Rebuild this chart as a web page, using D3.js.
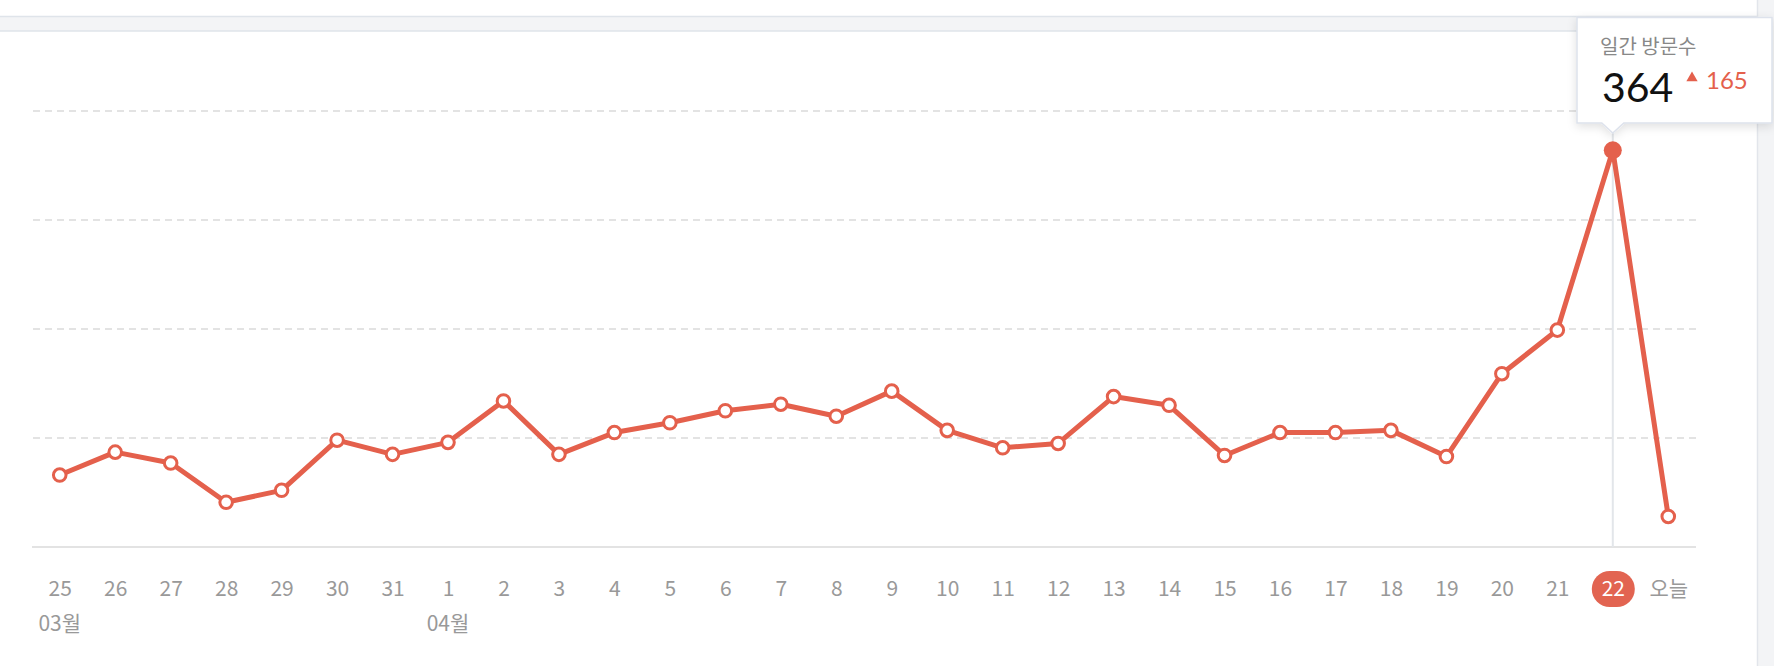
<!DOCTYPE html>
<html>
<head>
<meta charset="utf-8">
<script src="https://cdn.jsdelivr.net/npm/d3@7"></script>
<style>
  body { margin: 0; background: #fff; font-family: "Noto Sans CJK KR", "Noto Sans", sans-serif; }
  svg { display: block; }
</style>
</head>
<body>
<svg id="chart"></svg>
<script>
// ===============================
// Data
// ===============================
const days = ["25", "26", "27", "28", "29", "30", "31", "1", "2", "3", "4", "5", "6", "7", "8",
              "9", "10", "11", "12", "13", "14", "15", "16", "17", "18", "19", "20", "21", "22", "오늘"];
const visits = [66, 87, 77, 41, 52, 98, 85, 96, 134, 85, 105, 114, 125, 131, 120,
                143, 107, 91, 95, 138, 130, 84, 105, 105, 107, 83, 159, 199, 364, 28];
const monthLabels = [["25", "03월"], ["1", "04월"]];
const gridTicks = [100, 200, 300, 400];
const selectedDay = "22";
const tooltipTitle = "일간 방문수";
const changeValue = 165;

const width = 1774, height = 666;
const red = "#e4604c";

const svg = d3.select("#chart").attr("width", width).attr("height", height);

// ===============================
// Page frame (top band, scrollbar)
// ===============================
svg.append("rect").attr("x", 0).attr("y", 16).attr("width", 1757).attr("height", 15)
    .attr("fill", "#f3f4f6");
svg.append("line").attr("x1", 0).attr("x2", 1757).attr("y1", 16.5).attr("y2", 16.5)
    .attr("stroke", "#dfe4ea").attr("stroke-width", 1.5);
svg.append("line").attr("x1", 0).attr("x2", 1757).attr("y1", 31).attr("y2", 31)
    .attr("stroke", "#dfe4ea").attr("stroke-width", 1.5);
svg.append("rect").attr("x", 1757).attr("y", 0).attr("width", 17).attr("height", height)
    .attr("fill", "#f3f4f6");
svg.append("line").attr("x1", 1757.5).attr("x2", 1757.5).attr("y1", 0).attr("y2", height)
    .attr("stroke", "#e2e5eb").attr("stroke-width", 1.5);

// ===============================
// Scales
// ===============================
const x = d3.scalePoint().domain(days).range([32, 1696]).padding(0.5);
const y = d3.scaleLinear().domain([0, 400]).range([547, 111]);

// Grid lines
svg.append("g")
    .selectAll("line")
    .data(gridTicks)
    .enter()
    .append("line")
    .attr("x1", 33).attr("x2", 1696)
    .attr("y1", d => y(d)).attr("y2", d => y(d))
    .attr("stroke", "#e3e3e3")
    .attr("stroke-width", 2)
    .attr("stroke-dasharray", "7,5");

// Baseline
svg.append("line")
    .attr("x1", 32).attr("x2", 1696)
    .attr("y1", y(0)).attr("y2", y(0))
    .attr("stroke", "#e3e3e3").attr("stroke-width", 2);

// Hover line
const selIdx = days.indexOf(selectedDay);
svg.append("line")
    .attr("x1", x(selectedDay)).attr("x2", x(selectedDay))
    .attr("y1", 125).attr("y2", y(0))
    .attr("stroke", "#e3e6ea").attr("stroke-width", 2);

// ===============================
// Line + points
// ===============================
const line = d3.line()
    .x((d, i) => x(days[i]))
    .y(d => y(d));

svg.append("path")
    .datum(visits)
    .attr("fill", "none")
    .attr("stroke", red)
    .attr("stroke-width", 5)
    .attr("stroke-linejoin", "round")
    .attr("d", line);

svg.append("g")
    .selectAll("circle")
    .data(visits)
    .enter()
    .append("circle")
    .attr("cx", (d, i) => x(days[i]))
    .attr("cy", d => y(d))
    .attr("r", (d, i) => i === selIdx ? 9 : 6.3)
    .attr("fill", (d, i) => i === selIdx ? red : "#fff")
    .attr("stroke", red)
    .attr("stroke-width", (d, i) => i === selIdx ? 0 : 3);

// ===============================
// X axis labels
// ===============================
const xAxis = svg.append("g")
    .attr("transform", `translate(0, 589)`)
    .call(d3.axisBottom(x).tickSize(0).tickPadding(0));
xAxis.select(".domain").remove();

xAxis.selectAll(".tick")
    .filter(d => d === selectedDay)
    .insert("rect", "text")
    .attr("x", -21.5).attr("y", -18)
    .attr("width", 43).attr("height", 36)
    .attr("rx", 18)
    .attr("fill", "#e26451");

xAxis.selectAll(".tick text")
    .attr("dy", "0.35em")
    .attr("y", 0)
    .attr("font-family", "'Noto Sans CJK KR', sans-serif")
    .attr("font-size", 21)
    .attr("fill", d => d === selectedDay ? "#fff" : "#999");

svg.append("g")
    .selectAll("text")
    .data(monthLabels)
    .enter()
    .append("text")
    .attr("x", d => x(d[0]))
    .attr("y", 624)
    .attr("dy", "0.35em")
    .attr("text-anchor", "middle")
    .attr("font-size", 21)
    .attr("fill", "#999")
    .text(d => d[1]);

// ===============================
// Tooltip
// ===============================
const defs = svg.append("defs");
const filter = defs.append("filter").attr("id", "shadow")
    .attr("x", "-20%").attr("y", "-20%").attr("width", "140%").attr("height", "150%");
filter.append("feDropShadow")
    .attr("dx", 0).attr("dy", 3).attr("stdDeviation", 5)
    .attr("flood-color", "#000").attr("flood-opacity", 0.12);

const px = x(selectedDay);
const tip = svg.append("g").attr("filter", "url(#shadow)");
tip.append("path")
    .attr("d", `M1577,17.5 H1772 V123 H${px + 11} L${px},133 L${px - 11},123 H1577 Z`)
    .attr("fill", "#fff")
    .attr("stroke", "#dde2ec")
    .attr("stroke-width", 1.5);

svg.append("text")
    .attr("x", 1600).attr("y", 54)
    .attr("font-size", 20)
    .attr("fill", "#888")
    .text(tooltipTitle);

svg.append("text")
    .attr("x", 1602).attr("y", 102)
    .attr("font-family", "Lato, sans-serif")
    .attr("font-size", 41)
    .attr("fill", "#111")
    .text(visits[selIdx]);

svg.append("path")
    .attr("d", d3.symbol().type(d3.symbolTriangle).size(55)())
    .attr("transform", "translate(1692, 78)")
    .attr("fill", red);

svg.append("text")
    .attr("x", 1706).attr("y", 89)
    .attr("font-family", "Lato, sans-serif")
    .attr("font-size", 24)
    .attr("fill", red)
    .text(changeValue);
</script>
</body>
</html>
